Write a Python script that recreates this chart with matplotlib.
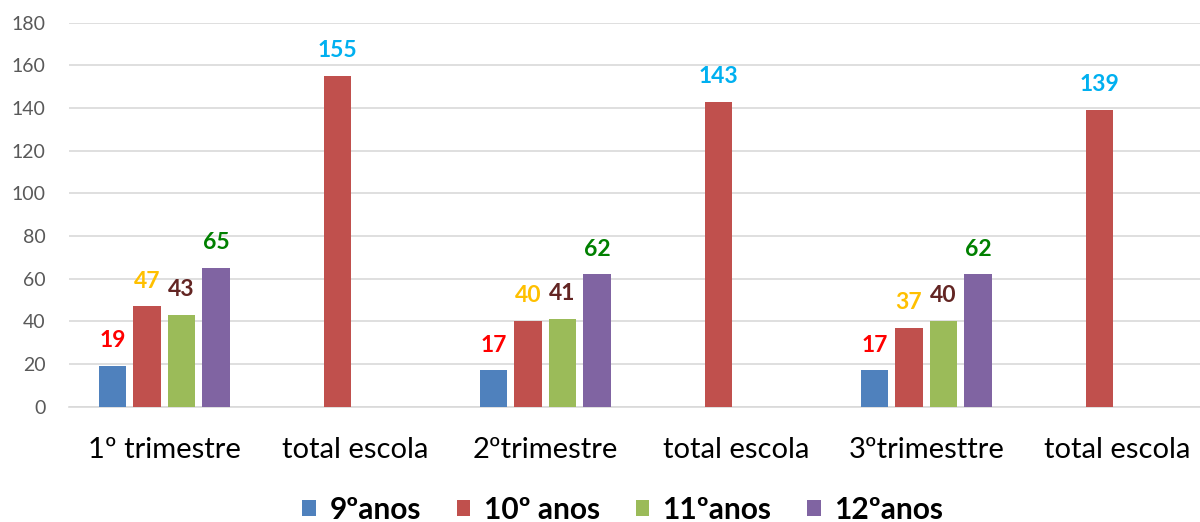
import numpy as np
import matplotlib
matplotlib.use("Agg")
import matplotlib.pyplot as plt

categories = ["1º trimestre", "total escola", "2ºtrimestre", "total escola", "3ºtrimesttre", "total escola"]
series_names = ["9ºanos", "10º anos", "11ºanos", "12ºanos"]
anos9 = [19, None, 17, None, 17, None]
anos10 = [47, 155, 40, 143, 37, 139]
anos11 = [43, None, 41, None, 40, None]
anos12 = [65, None, 62, None, 62, None]
y_ticks = [0, 20, 40, 60, 80, 100, 120, 140, 160, 180]

bar_colors = ["#4F81BD", "#C0504D", "#9BBB59", "#8064A2"]
label_colors = ["#FF0000", "#FFC000", "#632523", "#008000"]
total_label_color = "#00B0F0"

plt.rcParams["font.family"] = ["Lato", "DejaVu Sans"]

fig = plt.figure(figsize=(12, 5.22), dpi=100)
ax = fig.add_axes([69 / 1200, 1 - 406.5 / 522, 1 - 69 / 1200, 383.8 / 522])

x = np.arange(len(categories))
step, width = 0.181, 0.144
for i, (vals, name) in enumerate(zip([anos9, anos10, anos11, anos12], series_names)):
    pos = x + (i - 1.5) * step
    v = np.array([np.nan if a is None else a for a in vals], dtype=float)
    ax.bar(pos, v, width, color=bar_colors[i], label=name, zorder=3)
    for p, val, cat in zip(pos, vals, categories):
        if val is None:
            continue
        col = total_label_color if cat == "total escola" else label_colors[i]
        ax.annotate(str(val), (p, val), xytext=(0, 13.5), textcoords="offset points",
                    ha="center", va="baseline", fontsize=16.5, fontweight="bold", color=col)

ax.set_xlim(-0.5, (1200 - 69) / 190.5 - 0.5)
ax.set_ylim(0, 180)
ax.set_yticks(y_ticks)
ax.yaxis.grid(True, color="#D9D9D9", lw=1.2, zorder=0)
ax.set_xticks(x)
ax.set_xticklabels(categories, fontsize=21, color="black")
ax.tick_params(axis="x", length=0, pad=22)
ax.tick_params(axis="y", length=0, labelsize=14, labelcolor="#595959", pad=17)
for s in ["top", "right", "left"]:
    ax.spines[s].set_visible(False)
ax.spines["bottom"].set_color("#D9D9D9")
ax.spines["bottom"].set_linewidth(1.2)

fig.legend(loc="center", bbox_to_anchor=(0.519, 1 - 510 / 522), ncol=4, frameon=False,
           prop={"size": 21.5, "weight": "bold"}, handlelength=0.45, handleheight=0.45,
           handletextpad=0.45, columnspacing=1.2)

fig.savefig("out.png", dpi=100)
